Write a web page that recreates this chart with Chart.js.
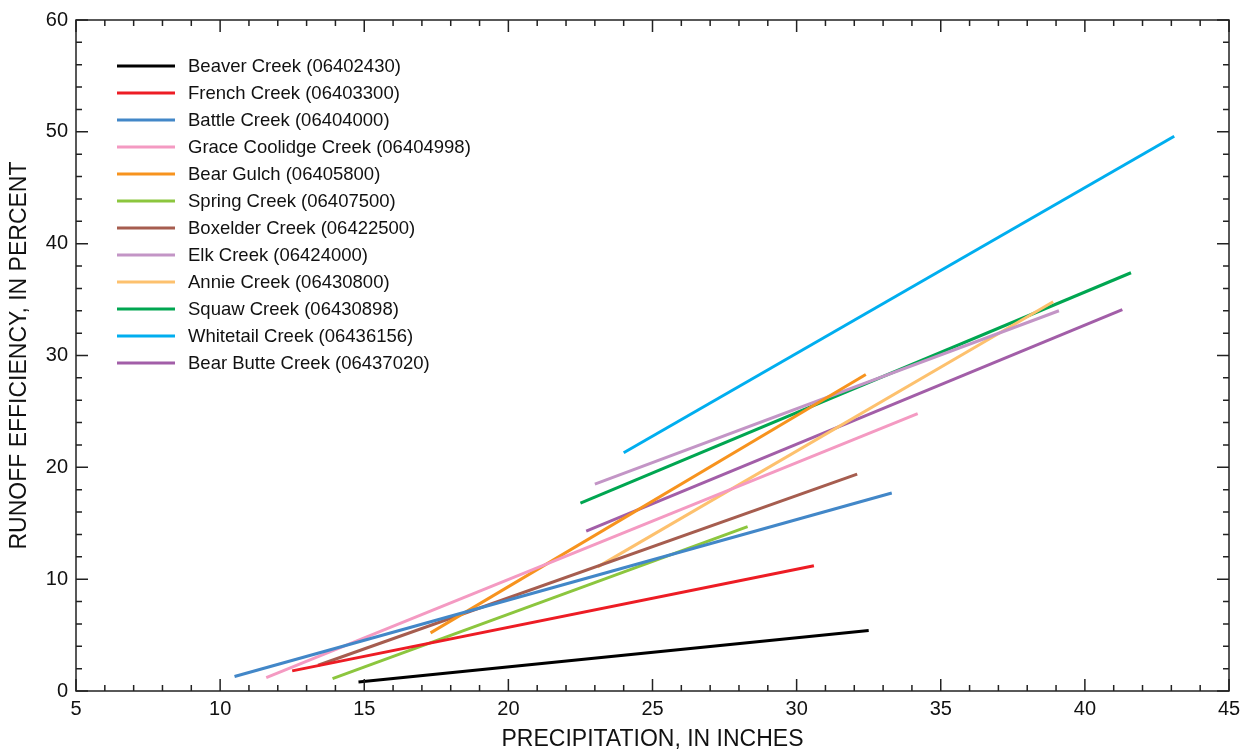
<!DOCTYPE html>
<html>
<head>
<meta charset="utf-8">
<script src="https://cdn.jsdelivr.net/npm/chart.js@4"></script>
<style>
  html, body { margin: 0; padding: 0; background: #fff; }
  #wrap { width: 1247px; height: 753px; }
</style>
</head>
<body>
<div id="wrap"><canvas id="chart"></canvas></div>
<script>
// stations, regression lines from start point to end point
const stations = [
  'Beaver Creek (06402430)', 'French Creek (06403300)', 'Battle Creek (06404000)',
  'Grace Coolidge Creek (06404998)', 'Bear Gulch (06405800)', 'Spring Creek (06407500)',
  'Boxelder Creek (06422500)', 'Elk Creek (06424000)', 'Annie Creek (06430800)',
  'Squaw Creek (06430898)', 'Whitetail Creek (06436156)', 'Bear Butte Creek (06437020)'
];
const precipStart = [14.8, 12.5, 10.5, 11.6, 17.3, 13.9, 13.4, 23.0, 23.1, 22.5, 24.0, 22.7];
const precipEnd   = [32.5, 30.6, 33.3, 34.2, 32.4, 28.3, 32.1, 39.1, 38.9, 41.6, 43.1, 41.3];
const effStart    = [0.8, 1.8, 1.3, 1.2, 5.2, 1.1, 2.3, 18.5, 11.1, 16.8, 21.3, 14.3];
const effEnd      = [5.4, 11.2, 17.7, 24.8, 28.3, 14.7, 19.4, 34.0, 34.8, 37.4, 49.6, 34.1];
const colors = [
  '#000000', '#ED1C24', '#4287C8', '#F49AC2', '#F7931E', '#8CC63E',
  '#A65D4F', '#C395C6', '#FDC16E', '#00A651', '#00AEEF', '#A25EA8'
];

const xTicks = [5, 10, 15, 20, 25, 30, 35, 40, 45];
const yTicks = [0, 10, 20, 30, 40, 50, 60];

const datasets = stations.map((name, i) => ({
  label: name,
  data: [{x: precipStart[i], y: effStart[i]}, {x: precipEnd[i], y: effEnd[i]}],
  borderColor: colors[i],
  backgroundColor: colors[i],
  borderWidth: 3,
  pointRadius: 0,
  showLine: true,
  fill: false
}));

// frame with inward ticks on all four sides, plus the legend inside the plot
const framePlugin = {
  id: 'frame',
  afterDatasetsDraw(chart) {
    const ctx = chart.ctx;
    const a = chart.chartArea;
    const xs = chart.scales.x, ys = chart.scales.y;
    ctx.save();
    ctx.strokeStyle = '#222';
    ctx.lineWidth = 1.5;
    ctx.strokeRect(a.left, a.top, a.right - a.left, a.bottom - a.top);
    ctx.beginPath();
    for (let v = 5; v <= 45; v++) {
      const px = xs.getPixelForValue(v);
      const len = v % 5 === 0 ? 12 : 6;
      ctx.moveTo(px, a.bottom); ctx.lineTo(px, a.bottom - len);
      ctx.moveTo(px, a.top); ctx.lineTo(px, a.top + len);
    }
    for (let v = 0; v <= 60; v += 2) {
      const py = ys.getPixelForValue(v);
      const len = v % 10 === 0 ? 12 : 6;
      ctx.moveTo(a.left, py); ctx.lineTo(a.left + len, py);
      ctx.moveTo(a.right, py); ctx.lineTo(a.right - len, py);
    }
    ctx.stroke();

    // legend
    ctx.font = '18.5px "Liberation Sans", Arial, sans-serif';
    ctx.textBaseline = 'middle';
    ctx.fillStyle = '#111';
    chart.data.datasets.forEach((ds, i) => {
      const y = 66 + i * 27;
      ctx.strokeStyle = ds.borderColor;
      ctx.lineWidth = 3;
      ctx.beginPath();
      ctx.moveTo(117, y); ctx.lineTo(175, y);
      ctx.stroke();
      ctx.fillText(ds.label, 188, y + 1);
    });
    ctx.restore();
  }
};

new Chart(document.getElementById('chart'), {
  type: 'scatter',
  data: { datasets: datasets },
  options: {
    responsive: true,
    maintainAspectRatio: false,
    animation: false,
    layout: { padding: { top: 18, right: 18, left: 0, bottom: 0 } },
    plugins: { legend: { display: false }, tooltip: { enabled: false } },
    scales: {
      x: {
        type: 'linear',
        min: 5, max: 45,
        afterFit: (scale) => { scale.height = 62; },
        afterBuildTicks: (scale) => { scale.ticks = xTicks.map(v => ({value: v})); },
        grid: { display: false, drawTicks: false },
        border: { display: false },
        ticks: { color: '#111', padding: 6, font: { family: '"Liberation Sans", Arial, sans-serif', size: 20 }, maxRotation: 0 },
        title: {
          display: true,
          text: 'PRECIPITATION, IN INCHES',
          color: '#111',
          padding: { top: 0, bottom: 0 },
          font: { family: '"Liberation Sans", Arial, sans-serif', size: 23, lineHeight: 1.15 }
        }
      },
      y: {
        type: 'linear',
        min: 0, max: 60,
        afterFit: (scale) => { scale.width = 76; },
        afterBuildTicks: (scale) => { scale.ticks = yTicks.map(v => ({value: v})); },
        grid: { display: false, drawTicks: false },
        border: { display: false },
        ticks: { color: '#111', padding: 8, font: { family: '"Liberation Sans", Arial, sans-serif', size: 20 } },
        title: {
          display: true,
          text: 'RUNOFF EFFICIENCY, IN PERCENT',
          color: '#111',
          padding: { top: 6, bottom: 0 },
          font: { family: '"Liberation Sans", Arial, sans-serif', size: 23, lineHeight: 1.2 }
        }
      }
    }
  },
  plugins: [framePlugin]
});
</script>
</body>
</html>
